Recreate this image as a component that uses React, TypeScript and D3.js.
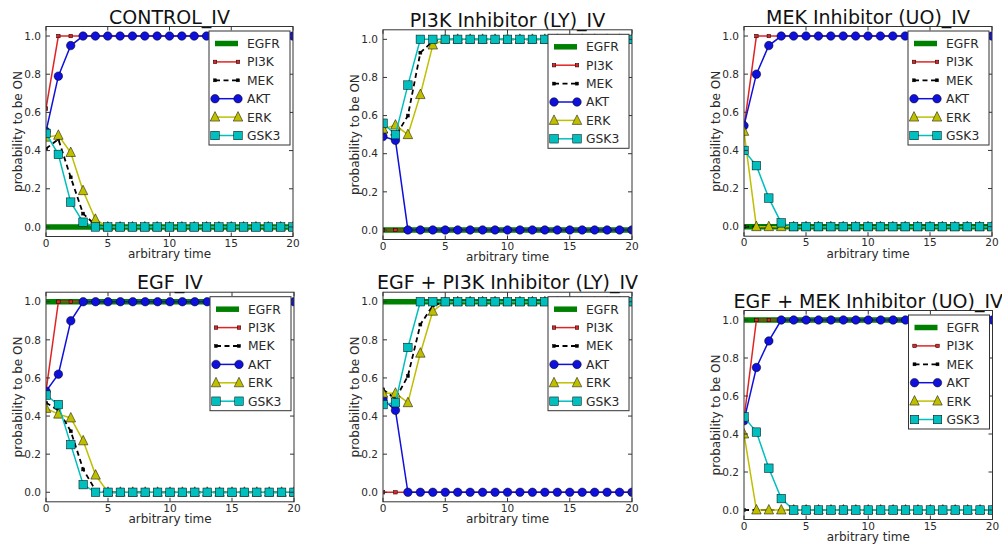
import React from 'react';
import * as d3 from 'd3';

// time steps on x
const times = [0, 1, 2, 3, 4, 5, 6, 7, 8, 9, 10, 11, 12, 13, 14, 15, 16, 17, 18, 19, 20];
const seriesNames = ['EGFR', 'PI3K', 'MEK', 'AKT', 'ERK', 'GSK3'];
const titles = [
  'CONTROL_IV',
  'PI3K Inhibitor (LY)_IV',
  'MEK Inhibitor (UO)_IV',
  'EGF_IV',
  'EGF + PI3K Inhibitor (LY)_IV',
  'EGF + MEK Inhibitor (UO)_IV',
];

// CONTROL_IV
const controlEGFR = [0, 0, 0, 0, 0, 0, 0, 0, 0, 0, 0, 0, 0, 0, 0, 0, 0, 0, 0, 0, 0];
const controlPI3K = [0.62, 1, 1, 1, 1, 1, 1, 1, 1, 1, 1, 1, 1, 1, 1, 1, 1, 1, 1, 1, 1];
const controlMEK = [0.41, 0.46, 0.26, 0.07, 0.01, 0, 0, 0, 0, 0, 0, 0, 0, 0, 0, 0, 0, 0, 0, 0, 0];
const controlAKT = [0.5, 0.79, 0.95, 1, 1, 1, 1, 1, 1, 1, 1, 1, 1, 1, 1, 1, 1, 1, 1, 1, 1];
const controlERK = [0.47, 0.48, 0.39, 0.19, 0.04, 0, 0, 0, 0, 0, 0, 0, 0, 0, 0, 0, 0, 0, 0, 0, 0];
const controlGSK3 = [0.49, 0.38, 0.13, 0.025, 0, 0, 0, 0, 0, 0, 0, 0, 0, 0, 0, 0, 0, 0, 0, 0, 0];

// PI3K Inhibitor (LY)_IV
const lyEGFR = [0, 0, 0, 0, 0, 0, 0, 0, 0, 0, 0, 0, 0, 0, 0, 0, 0, 0, 0, 0, 0];
const lyPI3K = [0, 0, 0, 0, 0, 0, 0, 0, 0, 0, 0, 0, 0, 0, 0, 0, 0, 0, 0, 0, 0];
const lyMEK = [0.52, 0.49, 0.6, 0.93, 0.99, 1, 1, 1, 1, 1, 1, 1, 1, 1, 1, 1, 1, 1, 1, 1, 1];
const lyAKT = [0.49, 0.47, 0, 0, 0, 0, 0, 0, 0, 0, 0, 0, 0, 0, 0, 0, 0, 0, 0, 0, 0];
const lyERK = [0.53, 0.55, 0.5, 0.71, 0.97, 1, 1, 1, 1, 1, 1, 1, 1, 1, 1, 1, 1, 1, 1, 1, 1];
const lyGSK3 = [0.56, 0.5, 0.76, 1, 1, 1, 1, 1, 1, 1, 1, 1, 1, 1, 1, 1, 1, 1, 1, 1, 1];

// MEK Inhibitor (UO)_IV
const uoEGFR = [0, 0, 0, 0, 0, 0, 0, 0, 0, 0, 0, 0, 0, 0, 0, 0, 0, 0, 0, 0, 0];
const uoPI3K = [0.52, 1, 1, 1, 1, 1, 1, 1, 1, 1, 1, 1, 1, 1, 1, 1, 1, 1, 1, 1, 1];
const uoMEK = [0, 0, 0, 0, 0, 0, 0, 0, 0, 0, 0, 0, 0, 0, 0, 0, 0, 0, 0, 0, 0];
const uoAKT = [0.53, 0.8, 0.95, 1, 1, 1, 1, 1, 1, 1, 1, 1, 1, 1, 1, 1, 1, 1, 1, 1, 1];
const uoERK = [0.5, 0, 0, 0, 0, 0, 0, 0, 0, 0, 0, 0, 0, 0, 0, 0, 0, 0, 0, 0, 0];
const uoGSK3 = [0.4, 0.32, 0.15, 0.02, 0, 0, 0, 0, 0, 0, 0, 0, 0, 0, 0, 0, 0, 0, 0, 0, 0];

// EGF_IV
const egfEGFR = [1, 1, 1, 1, 1, 1, 1, 1, 1, 1, 1, 1, 1, 1, 1, 1, 1, 1, 1, 1, 1];
const egfPI3K = [0.53, 1, 1, 1, 1, 1, 1, 1, 1, 1, 1, 1, 1, 1, 1, 1, 1, 1, 1, 1, 1];
const egfMEK = [0.47, 0.43, 0.32, 0.12, 0.01, 0, 0, 0, 0, 0, 0, 0, 0, 0, 0, 0, 0, 0, 0, 0, 0];
const egfAKT = [0.53, 0.62, 0.9, 1, 1, 1, 1, 1, 1, 1, 1, 1, 1, 1, 1, 1, 1, 1, 1, 1, 1];
const egfERK = [0.44, 0.41, 0.39, 0.27, 0.09, 0, 0, 0, 0, 0, 0, 0, 0, 0, 0, 0, 0, 0, 0, 0, 0];
const egfGSK3 = [0.51, 0.46, 0.25, 0.04, 0, 0, 0, 0, 0, 0, 0, 0, 0, 0, 0, 0, 0, 0, 0, 0, 0];

// EGF + PI3K Inhibitor (LY)_IV
const egfLyEGFR = [1, 1, 1, 1, 1, 1, 1, 1, 1, 1, 1, 1, 1, 1, 1, 1, 1, 1, 1, 1, 1];
const egfLyPI3K = [0, 0, 0, 0, 0, 0, 0, 0, 0, 0, 0, 0, 0, 0, 0, 0, 0, 0, 0, 0, 0];
const egfLyMEK = [0.54, 0.49, 0.61, 0.88, 0.98, 1, 1, 1, 1, 1, 1, 1, 1, 1, 1, 1, 1, 1, 1, 1, 1];
const egfLyAKT = [0.49, 0.43, 0, 0, 0, 0, 0, 0, 0, 0, 0, 0, 0, 0, 0, 0, 0, 0, 0, 0, 0];
const egfLyERK = [0.52, 0.52, 0.47, 0.73, 0.95, 1, 1, 1, 1, 1, 1, 1, 1, 1, 1, 1, 1, 1, 1, 1, 1];
const egfLyGSK3 = [0.46, 0.47, 0.76, 1, 1, 1, 1, 1, 1, 1, 1, 1, 1, 1, 1, 1, 1, 1, 1, 1, 1];

// EGF + MEK Inhibitor (UO)_IV
const egfUoEGFR = [1, 1, 1, 1, 1, 1, 1, 1, 1, 1, 1, 1, 1, 1, 1, 1, 1, 1, 1, 1, 1];
const egfUoPI3K = [0.48, 1, 1, 1, 1, 1, 1, 1, 1, 1, 1, 1, 1, 1, 1, 1, 1, 1, 1, 1, 1];
const egfUoMEK = [0, 0, 0, 0, 0, 0, 0, 0, 0, 0, 0, 0, 0, 0, 0, 0, 0, 0, 0, 0, 0];
const egfUoAKT = [0.47, 0.75, 0.89, 1, 1, 1, 1, 1, 1, 1, 1, 1, 1, 1, 1, 1, 1, 1, 1, 1, 1];
const egfUoERK = [0.4, 0, 0, 0, 0, 0, 0, 0, 0, 0, 0, 0, 0, 0, 0, 0, 0, 0, 0, 0, 0];
const egfUoGSK3 = [0.49, 0.41, 0.22, 0.06, 0, 0, 0, 0, 0, 0, 0, 0, 0, 0, 0, 0, 0, 0, 0, 0, 0];

const panelData = [
  [controlEGFR, controlPI3K, controlMEK, controlAKT, controlERK, controlGSK3],
  [lyEGFR, lyPI3K, lyMEK, lyAKT, lyERK, lyGSK3],
  [uoEGFR, uoPI3K, uoMEK, uoAKT, uoERK, uoGSK3],
  [egfEGFR, egfPI3K, egfMEK, egfAKT, egfERK, egfGSK3],
  [egfLyEGFR, egfLyPI3K, egfLyMEK, egfLyAKT, egfLyERK, egfLyGSK3],
  [egfUoEGFR, egfUoPI3K, egfUoMEK, egfUoAKT, egfUoERK, egfUoGSK3],
];

// plot boxes: left, right, top, bottom
const boxes = [
  [46, 293, 26.5, 236.5],
  [383, 632, 29.8, 239.5],
  [744, 992, 26.5, 236.2],
  [46, 294, 292.2, 501.8],
  [383, 632, 292.2, 501.8],
  [744, 992.5, 310.5, 519.5],
];

const styles = [
  { color: '#008000', width: 5.5, marker: 'none', size: 0, dash: null },
  { color: '#e02424', width: 1.5, marker: 'square', size: 3.5, dash: null },
  { color: '#000000', width: 1.8, marker: 'square', size: 3, dash: '5,3.5' },
  { color: '#1010dc', width: 1.5, marker: 'circle', size: 8.5, dash: null },
  { color: '#bfbf00', width: 1.5, marker: 'triangle', size: 9.5, dash: null },
  { color: '#00bfbf', width: 1.5, marker: 'square', size: 8.5, dash: null },
];

const font = '"DejaVu Sans", sans-serif';
const textColor = '#2a2a2a';

function Marker({ type, x, y, size, color }) {
  if (type === 'circle') {
    return <circle cx={x} cy={y} r={size / 2} fill={color} stroke="#000" strokeWidth={0.5} />;
  }
  if (type === 'square') {
    return <rect x={x - size / 2} y={y - size / 2} width={size} height={size} fill={color} stroke="#000" strokeWidth={0.5} />;
  }
  if (type === 'triangle') {
    const s = size;
    return (
      <path
        d={`M${x},${y - s * 0.58}L${x + s / 2},${y + s * 0.42}L${x - s / 2},${y + s * 0.42}Z`}
        fill={color}
        stroke="#000"
        strokeWidth={0.5}
      />
    );
  }
  return null;
}

function Panel({ idx }) {
  const [left, right, top, bottom] = boxes[idx];
  const series = panelData[idx];
  const x = d3.scaleLinear().domain([0, 20]).range([left, right]);
  const y = d3.scaleLinear().domain([-0.05, 1.05]).range([bottom, top]);
  const line = d3.line<number>().x((d, i) => x(times[i])).y(d => y(d));
  const clipId = `clip-${idx}`;
  const xTicks = x.ticks(5);
  const yTicks = y.ticks(6);
  const fmt = d3.format('.1f');
  const cx = (left + right) / 2;
  const cy = (top + bottom) / 2;

  // legend
  const lw = 81;
  const lh = 114;
  const lx = right - lw - 3;
  const ly = top + 4.5;

  return (
    <g>
      <defs>
        <clipPath id={clipId}>
          <rect x={left} y={top} width={right - left} height={bottom - top} />
        </clipPath>
      </defs>
      <rect x={left} y={top} width={right - left} height={bottom - top} fill="#fff" />
      <g clipPath={`url(#${clipId})`}>
        {series.map((vals, si) => {
          const st = styles[si];
          return (
            <g key={si}>
              <path
                d={line(vals) || ''}
                fill="none"
                stroke={st.color}
                strokeWidth={st.width}
                strokeDasharray={st.dash || undefined}
              />
              {vals.map((v, i) => (
                <Marker key={i} type={st.marker} x={x(times[i])} y={y(v)} size={st.size} color={st.color} />
              ))}
            </g>
          );
        })}
      </g>
      {/* frame */}
      <rect x={left} y={top} width={right - left} height={bottom - top} fill="none" stroke="#333" strokeWidth={1} />
      {xTicks.map(t => (
        <g key={'x' + t}>
          <line x1={x(t)} x2={x(t)} y1={bottom} y2={bottom - 4} stroke="#333" />
          <line x1={x(t)} x2={x(t)} y1={top} y2={top + 4} stroke="#333" />
          <text x={x(t)} y={bottom + 10} textAnchor="middle" fontSize={10.5} fill={textColor} fontFamily={font}>{t}</text>
        </g>
      ))}
      {yTicks.map(t => (
        <g key={'y' + t}>
          <line x1={left} x2={left + 4} y1={y(t)} y2={y(t)} stroke="#333" />
          <line x1={right} x2={right - 4} y1={y(t)} y2={y(t)} stroke="#333" />
          <text x={left - 5} y={y(t)} dy="0.35em" textAnchor="end" fontSize={10.5} fill={textColor} fontFamily={font}>{fmt(t)}</text>
        </g>
      ))}
      <text x={cx} y={top - 3} textAnchor="middle" fontSize={19} fill="#111" fontFamily={font}>{titles[idx]}</text>
      <text x={cx} y={bottom + 21.5} textAnchor="middle" fontSize={12} fill={textColor} fontFamily={font}>arbitrary time</text>
      <text
        transform={`translate(${left - 28},${cy}) rotate(-90)`}
        dy="0.35em"
        textAnchor="middle"
        fontSize={12}
        fill={textColor}
        fontFamily={font}
      >
        probability to be ON
      </text>
      {/* legend */}
      <rect x={lx} y={ly} width={lw} height={lh} fill="#fff" stroke="#333" strokeWidth={1} />
      {seriesNames.map((name, si) => {
        const st = styles[si];
        const ry = ly + 12.5 + si * 18.4;
        const hx1 = lx + 6;
        const hx2 = lx + 29;
        return (
          <g key={name}>
            <line x1={hx1} x2={hx2} y1={ry} y2={ry} stroke={st.color} strokeWidth={st.width} strokeDasharray={st.dash || undefined} />
            <Marker type={st.marker} x={hx1} y={ry} size={st.size} color={st.color} />
            <Marker type={st.marker} x={hx2} y={ry} size={st.size} color={st.color} />
            <text x={lx + 38} y={ry} dy="0.36em" fontSize={12.3} fill={textColor} fontFamily={font}>{name}</text>
          </g>
        );
      })}
    </g>
  );
}

export default function App() {
  return (
    <svg
      width={1002}
      height={548}
      style={{ position: 'absolute', left: 0, top: 0, background: '#fff' }}
    >
      <rect width={1002} height={548} fill="#fff" />
      {titles.map((t, i) => <Panel key={t} idx={i} />)}
    </svg>
  );
}
